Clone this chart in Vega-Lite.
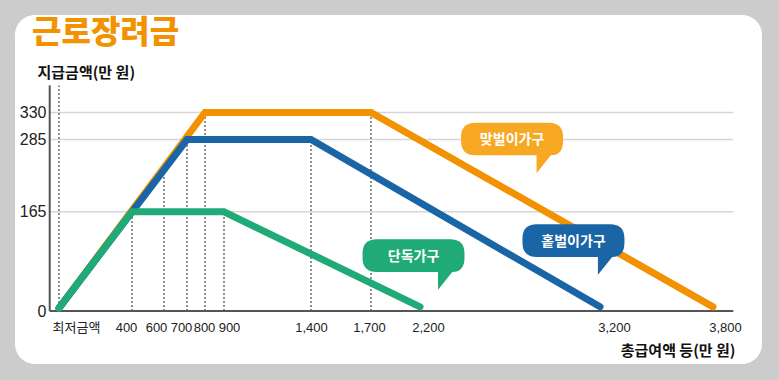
{
  "$schema": "https://vega.github.io/schema/vega-lite/v6.json",
  "width": 747,
  "height": 349,
  "autosize": {"type": "none"},
  "padding": {"left": 15, "top": 15, "right": 17, "bottom": 16},
  "background": "#cccccc",
  "config": {
    "view": {"fill": "white", "stroke": null, "cornerRadius": 20},
    "font": "Noto Sans CJK KR"
  },
  "title": {
    "text": "근로장려금",
    "anchor": "start",
    "frame": "group",
    "baseline": "top",
    "offset": 0,
    "dx": 17,
    "dy": 35,
    "fontSize": 32,
    "fontWeight": 900,
    "color": "#F39200",
    "font": "Noto Sans CJK KR"
  },
  "datasets": {
    "lines": [
      {"series": "맞벌이가구", "income": 0, "amount": 5},
      {"series": "맞벌이가구", "income": 800, "amount": 330},
      {"series": "맞벌이가구", "income": 1700, "amount": 330},
      {"series": "맞벌이가구", "income": 3735, "amount": 7},
      {"series": "홑벌이가구", "income": 0, "amount": 5},
      {"series": "홑벌이가구", "income": 700, "amount": 285},
      {"series": "홑벌이가구", "income": 1400, "amount": 285},
      {"series": "홑벌이가구", "income": 3125, "amount": 7},
      {"series": "단독가구", "income": 0, "amount": 5},
      {"series": "단독가구", "income": 400, "amount": 165},
      {"series": "단독가구", "income": 900, "amount": 165},
      {"series": "단독가구", "income": 2130, "amount": 7}
    ],
    "markers": [
      {"income": 0, "low": 0, "top": 375},
      {"income": 400, "low": 0, "top": 165},
      {"income": 600, "low": 0, "top": 225},
      {"income": 700, "low": 0, "top": 285},
      {"income": 800, "low": 0, "top": 330},
      {"income": 900, "low": 0, "top": 165},
      {"income": 1400, "low": 0, "top": 285},
      {"income": 1700, "low": 0, "top": 330}
    ],
    "grid": [
      {"amount": 165, "start": -51, "end": 3845},
      {"amount": 285, "start": -51, "end": 3845},
      {"amount": 330, "start": -51, "end": 3845}
    ],
    "axisX": [
      {"amount": 0, "start": -51, "end": 3845}
    ],
    "axisY": [
      {"income": -51, "low": 0, "top": 375}
    ],
    "labels": [
      {"series": "맞벌이가구", "income": 2652, "amount": 286},
      {"series": "홑벌이가구", "income": 2982, "amount": 117},
      {"series": "단독가구", "income": 2073, "amount": 92}
    ]
  },
  "layer": [
    {
      "data": {"name": "grid"},
      "mark": {"type": "rule", "color": "#d6d6d6", "strokeWidth": 1.5},
      "encoding": {
        "y": {
          "field": "amount", "type": "quantitative",
          "scale": {"domain": [-88, 492], "nice": false, "zero": false},
          "axis": {
            "values": [0, 165, 285, 330],
            "domain": false, "ticks": false, "grid": false,
            "offset": -35, "labelPadding": 4,
            "labelFont": "Liberation Sans", "labelFontSize": 16, "labelColor": "#222222",
            "labelOverlap": false,
            "title": "지급금액(만 원)",
            "titleAngle": 0, "titleAlign": "left", "titleBaseline": "middle",
            "titleX": -13, "titleY": 57,
            "titleFont": "Noto Sans CJK KR", "titleFontSize": 15, "titleFontWeight": "bold", "titleColor": "#111111"
          }
        },
        "x": {
          "field": "start", "type": "quantitative",
          "scale": {
            "domain": [0, 400, 600, 700, 800, 900, 1400, 1700, 2200, 3200, 3800],
            "range": [44, 117, 149, 172, 190, 209, 296, 356, 413, 599, 710],
            "nice": false, "zero": false
          },
          "axis": {
            "values": [0, 400, 600, 700, 800, 900, 1400, 1700, 2200, 3200, 3800],
            "labelExpr": "datum.value == 0 ? '최저금액' : format(datum.value, ',')",
            "domain": false, "ticks": false, "grid": false,
            "offset": -53, "labelPadding": 10,
            "labelFont": "Liberation Sans, Noto Sans CJK KR", "labelFontSize": 13, "labelColor": "#222222",
            "labelOverlap": false, "labelFlush": false, "labelBound": false,
            "labelOffset": {
              "condition": [
                {"test": "datum.value == 0", "value": 17},
                {"test": "datum.value == 400", "value": -6},
                {"test": "datum.value == 600", "value": -8},
                {"test": "datum.value == 700", "value": -6},
                {"test": "datum.value == 800", "value": -1},
                {"test": "datum.value == 900", "value": 5},
                {"test": "datum.value == 1700", "value": -2}
              ],
              "value": 0
            },
            "title": "총급여액 등(만 원)",
            "titleAlign": "right", "titleBaseline": "middle",
            "titleX": 720, "titleY": 39,
            "titleFont": "Noto Sans CJK KR", "titleFontSize": 15, "titleFontWeight": "bold", "titleColor": "#111111"
          }
        },
        "x2": {"field": "end"}
      }
    },
    {
      "data": {"name": "markers"},
      "mark": {"type": "rule", "color": "#555555", "strokeWidth": 1.3, "strokeDash": [2, 2]},
      "encoding": {
        "x": {"field": "income", "type": "quantitative"},
        "y": {"field": "low", "type": "quantitative"},
        "y2": {"field": "top"}
      }
    },
    {
      "data": {"name": "axisY"},
      "mark": {"type": "rule", "color": "#555555", "strokeWidth": 2},
      "encoding": {
        "x": {"field": "income", "type": "quantitative"},
        "y": {"field": "low", "type": "quantitative"},
        "y2": {"field": "top"}
      }
    },
    {
      "data": {"name": "axisX"},
      "mark": {"type": "rule", "color": "#555555", "strokeWidth": 2},
      "encoding": {
        "x": {"field": "start", "type": "quantitative"},
        "x2": {"field": "end"},
        "y": {"field": "amount", "type": "quantitative"}
      }
    },
    {
      "data": {"name": "lines"},
      "transform": [{"filter": "datum.series == '맞벌이가구'"}],
      "mark": {"type": "line", "color": "#F39200", "strokeWidth": 7, "strokeCap": "round"},
      "encoding": {
        "x": {"field": "income", "type": "quantitative"},
        "y": {"field": "amount", "type": "quantitative"}
      }
    },
    {
      "data": {"name": "lines"},
      "transform": [{"filter": "datum.series == '홑벌이가구'"}],
      "mark": {"type": "line", "color": "#1A65A6", "strokeWidth": 7, "strokeCap": "round"},
      "encoding": {
        "x": {"field": "income", "type": "quantitative"},
        "y": {"field": "amount", "type": "quantitative"}
      }
    },
    {
      "data": {"name": "lines"},
      "transform": [{"filter": "datum.series == '단독가구'"}],
      "mark": {"type": "line", "color": "#1FAA78", "strokeWidth": 7, "strokeCap": "round"},
      "encoding": {
        "x": {"field": "income", "type": "quantitative"},
        "y": {"field": "amount", "type": "quantitative"}
      }
    },
    {
      "data": {"name": "labels"},
      "mark": {
        "type": "point",
        "shape": "M -0.72 -0.32 L 0.72 -0.32 Q 1 -0.32 1 -0.04 L 1 0.04 Q 1 0.32 0.76 0.32 L 0.48 0.67 L 0.48 0.32 L -0.72 0.32 Q -1 0.32 -1 0.04 L -1 -0.04 Q -1 -0.32 -0.72 -0.32 Z",
        "size": 10404,
        "filled": true,
        "opacity": 1,
        "strokeWidth": 0
      },
      "encoding": {
        "x": {"field": "income", "type": "quantitative"},
        "y": {"field": "amount", "type": "quantitative"},
        "color": {
          "field": "series", "type": "nominal",
          "scale": {"domain": ["맞벌이가구", "홑벌이가구", "단독가구"], "range": ["#F6A823", "#1A65A6", "#1FAA78"]},
          "legend": null
        }
      }
    },
    {
      "data": {"name": "labels"},
      "mark": {"type": "text", "color": "white", "fontSize": 14, "fontWeight": "bold", "font": "Noto Sans CJK KR", "align": "center", "baseline": "middle", "dy": 1},
      "encoding": {
        "x": {"field": "income", "type": "quantitative"},
        "y": {"field": "amount", "type": "quantitative"},
        "text": {"field": "series", "type": "nominal"}
      }
    }
  ]
}
